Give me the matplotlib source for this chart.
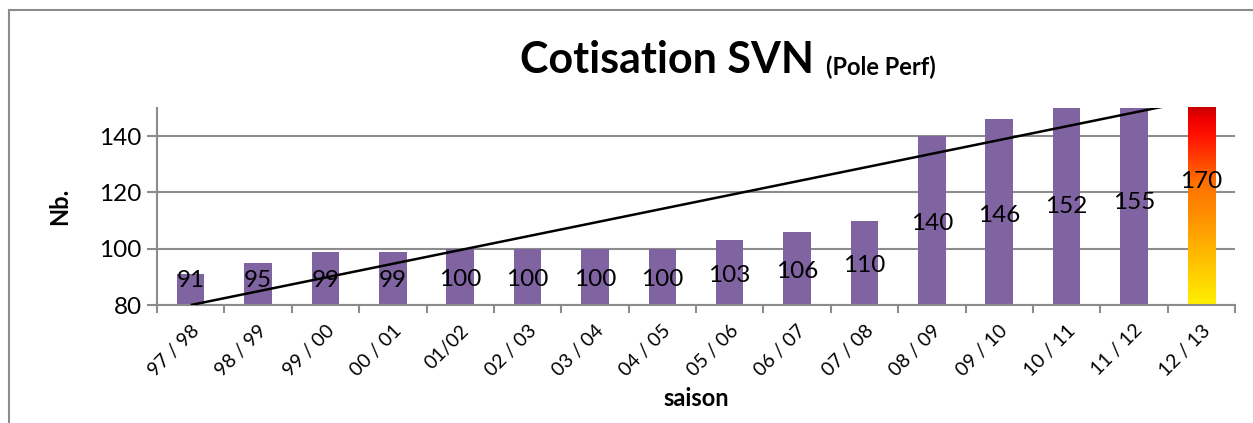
import matplotlib
matplotlib.use("Agg")
import matplotlib.pyplot as plt
import numpy as np
from matplotlib.colors import LinearSegmentedColormap
from matplotlib.lines import Line2D
from matplotlib.transforms import offset_copy

seasons = ["97 / 98", "98 / 99", "99 / 00", "00 / 01", "01/02", "02 / 03",
           "03 / 04", "04 / 05", "05 / 06", "06 / 07", "07 / 08", "08 / 09",
           "09 / 10", "10 / 11", "11 / 12", "12 / 13"]
members = [91, 95, 99, 99, 100, 100, 100, 100, 103, 106, 110, 140, 146, 152, 155, 170]
y_ticks = [80, 100, 120, 140]

plt.rcParams['font.family'] = ['Lato', 'DejaVu Sans']

PURPLE = '#8064A2'
GREY = '#8C8C8C'
ymin, ymax = 80, 150

fig = plt.figure(figsize=(12.53, 4.23), dpi=100)
ax = fig.add_axes([157 / 1253, 1 - 305 / 423, (1235 - 157) / 1253, (305 - 108) / 423])

x = np.arange(len(seasons))
w = 0.41
bars = ax.bar(x[:-1], members[:-1], width=w, color=PURPLE, zorder=2)

# last season: gradient bar (yellow -> orange -> red)
grad = LinearSegmentedColormap.from_list('fire', [
    (0.0, '#FFF000'), (0.45, '#FF9000'), (0.62, '#FF7000'),
    (0.86, '#FF1000'), (0.94, '#F00000'), (1.0, '#C80000')])
xl = x[-1]
top = min(members[-1], ymax)
rect = ax.bar([xl], [members[-1]], width=w, color='none', zorder=2)[0]
img = ax.imshow(np.linspace(0, 1, 256).reshape(-1, 1), cmap=grad, origin='lower',
                extent=(xl - w / 2, xl + w / 2, ymin, top), aspect='auto', zorder=2)
img.set_clip_path(rect)

# value labels, centered in the visible part of each bar
lbl_tr = offset_copy(ax.transData, fig=fig, x=0, y=-3, units='dots')
for xi, v in zip(x, members):
    ypos = max((ymin + v) / 2, 89.7)
    ax.text(xi, ypos, str(v), ha='center', va='center', fontsize=17.5, color='black',
            zorder=4, transform=lbl_tr)

# linear trend line
k, b = np.polyfit(x, members, 1)
xt = np.array([0, len(x) - 1])
ax.plot(xt, k * xt + b, color='black', lw=1.8, zorder=3, solid_capstyle='butt')

ax.set_xlim(-0.5, len(x) - 0.5)
ax.set_ylim(ymin, ymax)
ax.set_yticks(y_ticks)
ax.tick_params(axis='y', labelsize=17.5, length=7, width=1.5, color=GREY, pad=4)
ax.yaxis.grid(True, color=GREY, lw=1.5, zorder=1)
ax.set_axisbelow(True)

ax.set_xticks(x)
ax.set_xticklabels(seasons, rotation=45, ha='right', rotation_mode='anchor', fontsize=14)
ax.set_xticks(np.arange(-0.5, len(x), 1), minor=True)
ax.tick_params(axis='x', which='major', length=0, pad=12)
ax.tick_params(axis='x', which='minor', length=6, width=1.5, color=GREY)

for s in ['top', 'right']:
    ax.spines[s].set_visible(False)
for s in ['left', 'bottom']:
    ax.spines[s].set_color(GREY)
    ax.spines[s].set_linewidth(1.5)

ax.set_ylabel('Nb.', fontsize=17, fontweight='bold', labelpad=20)
ax.set_xlabel('saison', fontsize=17, fontweight='bold', labelpad=6)

fig.text(520 / 1253, 1 - 60 / 423, 'Cotisation SVN', fontsize=31, fontweight='bold',
         ha='left', va='center')
fig.text(826 / 1253, 1 - 67 / 423, '(Pole Perf)', fontsize=17, fontweight='bold',
         ha='left', va='center')

# outer chart frame (cropped on right and bottom)
fig.add_artist(Line2D([9 / 1253, 9 / 1253], [0, 1 - 10 / 423], color=GREY, lw=1.5,
                      transform=fig.transFigure))
fig.add_artist(Line2D([9 / 1253, 1], [1 - 10 / 423, 1 - 10 / 423], color=GREY, lw=1.5,
                      transform=fig.transFigure))

fig.savefig('out.png', dpi=100)
